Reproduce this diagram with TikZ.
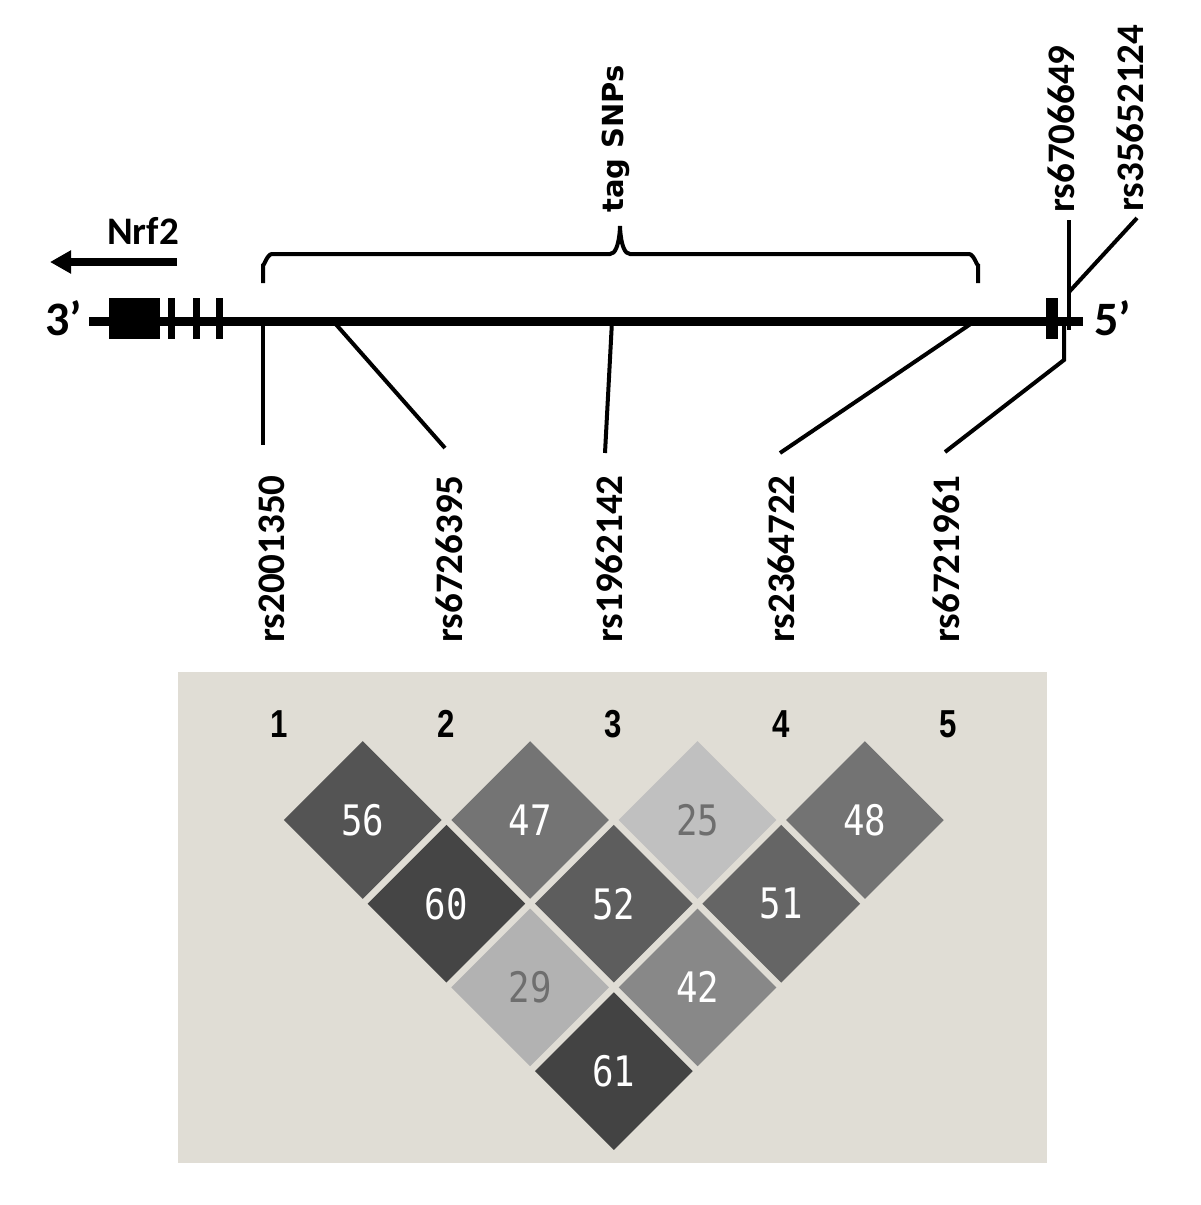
\documentclass[tikz,border=0pt]{standalone}
\usepackage{fontspec}
\setmainfont{Carlito}
\newfontfamily\tagfont{DejaVu Sans}
\newfontfamily\cellfont[FakeStretch=0.85]{DejaVu Sans Mono}
\newfontfamily\numfont[FakeStretch=0.8]{Liberation Sans}
\usetikzlibrary{shapes.geometric,arrows.meta}

\definecolor{ldbg}{RGB}{224,221,213}
\definecolor{paletext}{RGB}{110,110,110}
\definecolor{ldA}{RGB}{84,84,84}
\definecolor{ldB}{RGB}{116,116,116}
\definecolor{ldC}{RGB}{192,192,192}
\definecolor{ldD}{RGB}{115,115,115}
\definecolor{ldE}{RGB}{69,69,69}
\definecolor{ldF}{RGB}{93,93,93}
\definecolor{ldG}{RGB}{101,101,101}
\definecolor{ldH}{RGB}{178,178,178}
\definecolor{ldI}{RGB}{136,136,136}
\definecolor{ldJ}{RGB}{67,67,67}

\begin{document}
\begin{tikzpicture}[x=0.5pt,y=-0.5pt,
		snp/.style = {font=\fontsize{19.5}{20}\selectfont\bfseries, rotate=90, anchor=west, inner sep=0pt},
		lead/.style = {line width=2pt},
		exon/.style = {fill=black},
		ldcell/.style = {diamond, fill=#1, minimum width=79pt, minimum height=79pt, inner sep=0pt, text=white, font=\cellfont\fontsize{21}{21}\selectfont},
		pale/.style = {text=paletext},
		colnum/.style = {font=\numfont\bfseries\fontsize{19.5}{20}\selectfont, inner sep=0pt}]
		\useasboundingbox (0,0) rectangle (1200,1205);
		
		% gene and exons
		\coordinate (gl) at (89,321);
		\coordinate (gr) at (1083,321);
		\draw[line width=4.5pt] (gl) -- (gr);
		\fill[exon] (109,298) rectangle (160,339);
		\fill[exon] (168,298) rectangle (175,339);
		\fill[exon] (193,298) rectangle (200,339);
		\fill[exon] (216,298) rectangle (223,339);
		\fill[exon] (1046,298) rectangle (1058,339);
		\node[font=\fontsize{24}{24}\selectfont\bfseries] (p3) at (64,318) {3’};
		\node[font=\fontsize{24}{24}\selectfont\bfseries] (p5) at (1113,318) {5’};
		
		% direction
		\node[font=\fontsize{19.5}{20}\selectfont\bfseries] (nrf) at (143,231) {Nrf2};
		\coordinate (at) at (177,262);
		\coordinate (ah) at (50,262);
		\draw[line width=3.8pt, -{Triangle[length=10.5pt,width=11pt]}] (at) -- (ah);
		
		% tag SNPs
		\draw[lead] (263,283) -- (263,264) to[out=-90,in=180] (272,254) -- (610,254)
			to[out=0,in=90] (620,228) to[out=90,in=180] (630,254) -- (969,254)
			to[out=0,in=-90] (978,264) -- (978,283);
		\node[snp, font=\tagfont\bfseries\fontsize{14.5}{15}\selectfont] (tag) at (616,213) {tag SNPs};
		
		% SNP positions
		\coordinate (s1) at (263,321);
		\coordinate (s2) at (333,321);
		\coordinate (s3) at (612,321);
		\coordinate (s4) at (975,321);
		\coordinate (s5) at (1064,321);
		\coordinate (s6) at (1069,330);
		\coordinate (s7) at (1069,292);
		\coordinate (k5) at (1064,360);
		
		\node[snp] (rs1) at (272,643) {rs2001350};
		\node[snp] (rs2) at (449,643) {rs6726395};
		\node[snp] (rs3) at (609,643) {rs1962142};
		\node[snp] (rs4) at (781,643) {rs2364722};
		\node[snp] (rs5) at (946,643) {rs6721961};
		\node[snp] (rs6) at (1061,213) {rs6706649};
		\node[snp] (rs7) at (1130,212) {rs35652124};
		
		\coordinate (e1) at (263,445);
		\coordinate (e2) at (445,448);
		\coordinate (e3) at (605,453);
		\coordinate (e4) at (780,453);
		\coordinate (e5) at (945,452);
		\coordinate (e6) at (1069,220);
		\coordinate (e7) at (1137,218);
		
		\draw[lead] (s1) -- (e1);
		\draw[lead] (s2) -- (e2);
		\draw[lead] (s3) -- (e3);
		\draw[lead] (s4) -- (e4);
		\draw[lead] (s5) -- (k5) -- (e5);
		\draw[lead] (e6) -- (s6);
		\draw[lead] (e7) -- (s7);
		
		% LD plot
		\fill[ldbg] (178,672) rectangle (1047,1163);
		\node[colnum] (n1) at (279,724) {1};
		\node[colnum] (n2) at (446,724) {2};
		\node[colnum] (n3) at (613,724) {3};
		\node[colnum] (n4) at (781,724) {4};
		\node[colnum] (n5) at (948,724) {5};
		
		\node[ldcell=ldA] (c12) at (362.7,820) {56};
		\node[ldcell=ldB] (c23) at (530.1,820) {47};
		\node[ldcell=ldC, pale] (c34) at (697.5,820) {25};
		\node[ldcell=ldD] (c45) at (864.9,820) {48};
		\node[ldcell=ldE] (c13) at (446.4,903.7) {60};
		\node[ldcell=ldF] (c24) at (613.8,903.7) {52};
		\node[ldcell=ldG] (c35) at (781.2,903.7) {51};
		\node[ldcell=ldH, pale] (c14) at (530.1,987.4) {29};
		\node[ldcell=ldI] (c25) at (697.5,987.4) {42};
		\node[ldcell=ldJ] (c15) at (613.8,1071.1) {61};
	\end{tikzpicture}
\end{document}
